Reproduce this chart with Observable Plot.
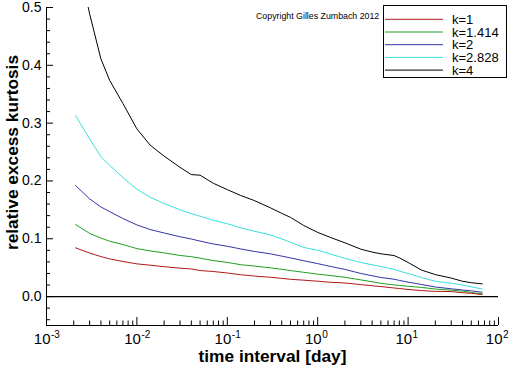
<!DOCTYPE html>
<html><head><meta charset="utf-8">
<script src="https://cdn.jsdelivr.net/npm/d3@7"></script>
<script src="https://cdn.jsdelivr.net/npm/@observablehq/plot@0.6"></script>
<style>body{margin:0;background:#fff;}</style>
</head><body><div id="chart"></div>
<script>
// time interval [day]
const timeInterval = [0.0021,0.003,0.004,0.005,0.007,0.01,0.014,0.02,0.03,0.04,0.05,0.07,0.1,0.14,0.2,0.3,0.4,0.5,0.7,1,1.4,2,3,4,5,7,8,10,14,20,30,40,50,66];
// relative excess kurtosis per k
const k1 = [0.0843,0.0753,0.0692,0.0652,0.0607,0.0566,0.0543,0.0517,0.0491,0.0478,0.045,0.0434,0.0408,0.0379,0.0355,0.0334,0.0315,0.0299,0.0284,0.0266,0.0247,0.0235,0.0208,0.0187,0.0173,0.0149,0.014,0.0123,0.0104,0.009,0.0087,0.0067,0.0057,0.0035];
const k1414 = [0.1246,0.1093,0.1012,0.0958,0.090,0.083,0.079,0.0756,0.0711,0.069,0.0664,0.0623,0.0592,0.0552,0.0528,0.0497,0.0471,0.045,0.042,0.0388,0.0363,0.0334,0.0289,0.0256,0.023,0.0202,0.0192,0.0178,0.0159,0.0131,0.0111,0.0095,0.0071,0.0047];
const k2 = [0.192,0.169,0.155,0.147,0.135,0.124,0.116,0.110,0.1035,0.0995,0.096,0.091,0.087,0.0825,0.078,0.074,0.070,0.067,0.062,0.057,0.052,0.047,0.040,0.036,0.033,0.030,0.028,0.025,0.021,0.0166,0.0135,0.0114,0.010,0.0074];
const k2828 = [0.313,0.2725,0.242,0.227,0.206,0.1856,0.172,0.161,0.150,0.1436,0.139,0.132,0.126,0.119,0.113,0.1067,0.0997,0.094,0.085,0.080,0.0735,0.066,0.059,0.055,0.052,0.047,0.044,0.040,0.033,0.0265,0.023,0.020,0.017,0.013];
const k4 = [0.600,0.489,0.411,0.374,0.334,0.290,0.262,0.243,0.2235,0.211,0.210,0.196,0.185,0.175,0.166,0.1535,0.144,0.137,0.123,0.111,0.102,0.093,0.082,0.077,0.074,0.071,0.067,0.059,0.046,0.038,0.032,0.0265,0.024,0.022];

const seriesNames = ["k=1","k=1.414","k=2","k=2.828","k=4"];
const seriesValues = [k1, k1414, k2, k2828, k4];
const seriesColors = ["#b01818","#20a020","#3434a8","#38dede","#000000"];

const xMajorTicks = [1e-3,1e-2,1e-1,1e0,1e1,1e2];
const xExponents = ["-3","-2","-1","0","1","2"];
const yMajorTicks = [0,0.1,0.2,0.3,0.4,0.5];
const xMinorTicks = [];
for (let e = -3; e <= 1; e++) for (let m = 2; m <= 9; m++) xMinorTicks.push(m * Math.pow(10, e));
const yMinorTicks = d3.range(-2, 25).filter(i => i % 5 !== 0).map(i => i * 0.02);

const rows = [];
for (let j = seriesNames.length - 1; j >= 0; j--) {
  timeInterval.forEach((t, i) => rows.push({t, v: seriesValues[j][i], k: seriesNames[j]}));
}

const font = "'Liberation Sans', Arial, Helvetica, sans-serif";

const chart = Plot.plot({
  width: 512, height: 366,
  marginLeft: 46, marginRight: 14, marginTop: 7, marginBottom: 41,
  style: {fontFamily: font, background: "white", color: "black", overflow: "visible"},
  x: {type: "log", domain: [1e-3, 1e2]},
  y: {domain: [-0.05, 0.5]},
  color: {domain: seriesNames, range: seriesColors},
  marks: [
    Plot.ruleY([0], {stroke: "black", strokeWidth: 1.2}),
    Plot.line(rows, {x: "t", y: "v", z: "k", stroke: "k", strokeWidth: 1, clip: true}),
    Plot.ruleX([1e-3], {stroke: "black"}),
    Plot.ruleY([-0.05], {stroke: "black"}),
    Plot.axisY({ticks: yMajorTicks, tickSize: -7, tickPadding: 12, tickFormat: d3.format(".1f"), fontSize: 14, label: null}),
    Plot.axisY({ticks: yMinorTicks, tickSize: -4, tickFormat: () => "", label: null}),
    Plot.axisX({ticks: xMajorTicks, tickSize: -8, tickFormat: () => "", label: null}),
    Plot.axisX({ticks: xMinorTicks, tickSize: -4.5, tickFormat: () => "", label: null}),
    Plot.text(xMajorTicks, {x: d => d, frameAnchor: "bottom", text: () => "10", textAnchor: "end", lineAnchor: "bottom", dx: 4, dy: 18, fontSize: 15, fill: "black"}),
    Plot.text(xMajorTicks, {x: d => d, frameAnchor: "bottom", text: (d, i) => xExponents[i], textAnchor: "start", lineAnchor: "bottom", dx: 4.5, dy: 12, fontSize: 10, fill: "black"}),
    Plot.text(["relative excess kurtosis"], {frameAnchor: "left", textAnchor: "middle", lineAnchor: "middle", rotate: -90, dx: -34, dy: -14, fontSize: 17.3, fontWeight: "bold", fill: "black"}),
    Plot.text(["time interval [day]"], {frameAnchor: "bottom", textAnchor: "middle", lineAnchor: "bottom", dy: 36, fontSize: 17.3, fontWeight: "bold", fill: "black"})
  ]
});
document.getElementById("chart").appendChild(chart);

// legend and credit inside the frame
const svg = d3.select(chart);
svg.append("text").attr("x", 256).attr("y", 18.5).attr("text-anchor", "start").attr("font-family", font).attr("font-size", 8.8).attr("fill", "black").text("Copyright Gilles Zumbach 2012");
const lg = svg.append("g").attr("font-family", font).attr("font-size", 13).attr("text-anchor", "start");
lg.append("rect").attr("x", 383.5).attr("y", 5.5).attr("width", 123).attr("height", 72).attr("fill", "white").attr("stroke", "black");
seriesNames.forEach((n, i) => {
  const y = 19.3 + i * 12.7;
  lg.append("line").attr("x1", 385).attr("x2", 443).attr("y1", y).attr("y2", y).attr("stroke", seriesColors[i]).attr("stroke-width", 1);
  lg.append("text").attr("x", 452).attr("y", y).attr("dy", "0.35em").attr("text-anchor", "start").attr("fill", "black").text(n);
});
</script>
</body></html>
